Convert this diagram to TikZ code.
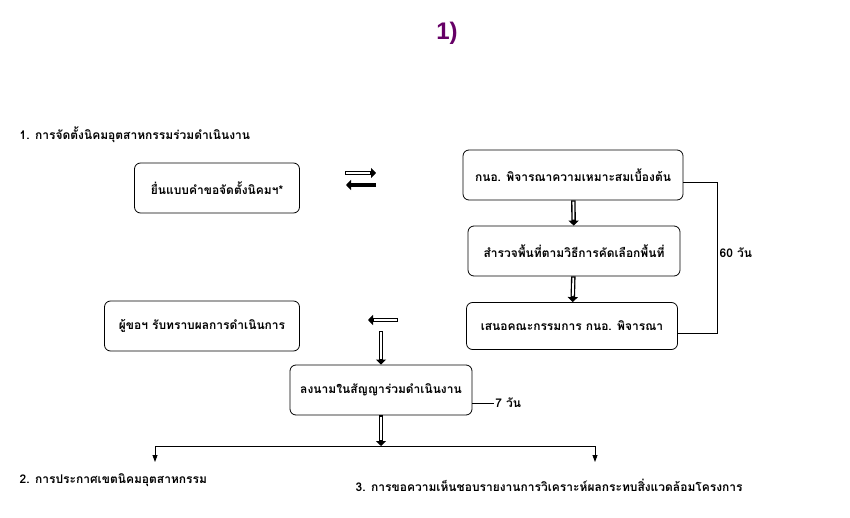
\documentclass[tikz,border=0pt]{standalone}
\usepackage{fontspec}
\newfontfamily\thaifont[Script=Thai]{Loma}
\newfontfamily\titlefont{Liberation Sans}
\usetikzlibrary{arrows.meta}

\begin{document}
\begin{tikzpicture}[x=1pt,y=-1pt,
                    thick,font=\thaifont\bfseries\fontsize{12}{14}\selectfont,
                    step box/.style={rectangle,rounded corners=6pt,draw,thick,minimum height=50pt,align=center},
                    hollow/.style={line width=4.5pt,-{Triangle[length=5pt,width=10pt]},
                                   postaction={draw=white,line width=1.8pt,-,shorten >=6pt,shorten <=1.3pt}},
                    filled/.style={line width=3.5pt,-{Triangle[length=5pt,width=10pt]}},
                    tip/.style={thick,-{Triangle[length=7pt,width=5pt]}}]
  \useasboundingbox (0,0) rectangle (850,518);

  \node[text=violet!80!black,font=\titlefont\bfseries\fontsize{24}{26}\selectfont] (title) at (447,33) {1)};
  \node[anchor=west] (head) at (16,135) {1. การจัดตั้งนิคมอุตสาหกรรมร่วมดำเนินงาน};

  \node[step box,minimum width=165pt] (submit) at (217,188) {ยื่นแบบคำขอจัดตั้งนิคมฯ*};
  \node[step box,minimum width=220pt] (check) at (573,175) {กนอ. พิจารณาความเหมาะสมเบื้องต้น};
  \node[step box,minimum width=212pt] (survey) at (574,251) {สำรวจพื้นที่ตามวิธีการคัดเลือกพื้นที่};
  \node[step box,minimum width=211pt,minimum height=47pt] (board) at (572,326) {เสนอคณะกรรมการ กนอ. พิจารณา};
  \node[step box,minimum width=195pt] (notify) at (202,326) {ผู้ขอฯ รับทราบผลการดำเนินการ};
  \node[step box,minimum width=182pt] (sign) at (381,390) {ลงนามในสัญญาร่วมดำเนินงาน};

  \node[anchor=west] (out2) at (16,480) {2. การประกาศเขตนิคมอุตสาหกรรม};
  \node[anchor=west] (out3) at (352,485) {3. การขอความเห็นชอบรายงานการวิเคราะห์ผลกระทบสิ่งแวดล้อมโครงการ};

  % arrows between the boxes
  \coordinate (fw1) at (345,173);
  \coordinate (fw2) at (376,173);
  \coordinate (bk1) at (376,185);
  \coordinate (bk2) at (346,185);
  \draw[hollow] (fw1) -- (fw2);
  \draw[filled] (bk1) -- (bk2);
  \draw[hollow] (check) -- (survey);
  \draw[hollow] (survey) -- (board);
  \coordinate (lf1) at (398,320);
  \coordinate (lf2) at (368,320);
  \draw[hollow] (lf1) -- (lf2);
  \coordinate (dn) at (381,331);
  \draw[hollow] (dn) -- (sign);

  % 60 days
  \coordinate (r1) at (717,182);
  \coordinate (r2) at (717,333);
  \draw (check.east |- r1) -- (r1) -- (r2) -- (board.east |- r2);
  \node[anchor=west] (d60) at (716,253) {60 วัน};

  % 7 days
  \coordinate (s7) at (494,403);
  \draw (sign.east |- s7) -- (s7) node[anchor=west,inner sep=1pt] (d7) {7 วัน};

  % split
  \coordinate (sp) at (381,446);
  \coordinate (spl) at (155,446);
  \coordinate (spr) at (595,446);
  \coordinate (el) at (155,462);
  \coordinate (er) at (595,462);
  \draw[hollow] (sign) -- (sp);
  \draw (spl) -- (spr);
  \draw[tip] (spl) -- (el);
  \draw[tip] (spr) -- (er);
\end{tikzpicture}
\end{document}
